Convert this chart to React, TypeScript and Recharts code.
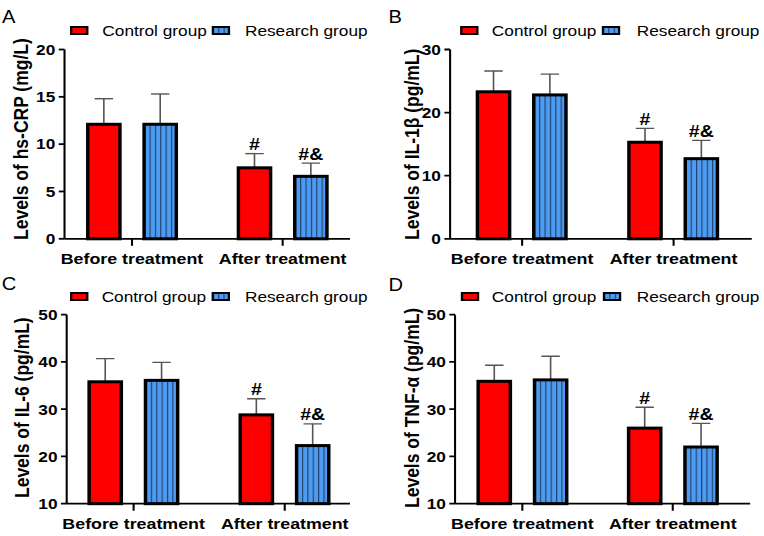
import React from 'react';
import { BarChart, Bar, XAxis, YAxis } from 'recharts';

const S = 1.15;
const PANEL_W = 382 / S;
const PANEL_H = 268;
const FONT = '"Liberation Sans", Arial, Helvetica, sans-serif';

const categories = ['Before treatment', 'After treatment'];
const sigControl = ['', '#'];
const sigResearch = ['', '#&'];

const crpControl = [12.1, 7.5];
const crpControlSd = [2.7, 1.5];
const crpResearch = [12.1, 6.6];
const crpResearchSd = [3.2, 1.4];

const il1bControl = [23.3, 15.3];
const il1bControlSd = [3.3, 2.2];
const il1bResearch = [22.8, 12.7];
const il1bResearchSd = [3.3, 2.9];

const il6Control = [35.8, 28.8];
const il6ControlSd = [4.9, 3.4];
const il6Research = [36.1, 22.3];
const il6ResearchSd = [3.8, 4.6];

const tnfControl = [35.9, 26.0];
const tnfControlSd = [3.4, 4.4];
const tnfResearch = [36.2, 22.0];
const tnfResearchSd = [5.0, 5.0];

const ticksA = [0, 5, 10, 15, 20];
const ticksB = [0, 10, 20, 30];
const ticksCD = [10, 20, 30, 40, 50];

const buildRows = (c: number[], cSd: number[], r: number[], rSd: number[]) =>
  categories.map((name, i) => ({
    name,
    control: c[i],
    controlSd: cSd[i],
    research: r[i],
    researchSd: rSd[i],
    sigC: sigControl[i],
    sigR: sigResearch[i],
  }));

const makeShape = (base: number, valueKey: string, sdKey: string, sigKey: string) => (props: any) => {
  const { x, y, width, height, payload, fill } = props;
  const v = payload[valueKey];
  const ppu = height / (v - base);
  const top = y - payload[sdKey] * ppu;
  const cx = x + width / 2;
  return (
    <g>
      <line x1={cx} x2={cx} y1={y} y2={top} stroke="#555" strokeWidth={1.4} />
      <line x1={cx - 8} x2={cx + 8} y1={top} y2={top} stroke="#555" strokeWidth={1.4} />
      <rect x={x} y={y} width={width} height={height} fill={fill} stroke="#000" strokeWidth={3} />
      {payload[sigKey] ? (
        <text x={cx} y={top - 3.5} textAnchor="middle" fontSize={17} fontWeight={700} fill="#000">
          {payload[sigKey]}
        </text>
      ) : null}
    </g>
  );
};

type Cfg = {
  letter: string;
  yLabel: string;
  data: any[];
  domain: [number, number];
  ticks: number[];
  plotLeft: number;
  plotRight: number;
  plotTop: number;
  plotBottom: number;
  padL: number;
  padR: number;
  letterX: number;
  letterY: number;
  labelX: number;
  labelY: number;
  redX: number;
  t1X: number;
  blueX: number;
  t2X: number;
  swY: number;
  legY: number;
};

const panels: Cfg[] = [
  {
    letter: 'A', yLabel: 'Levels of hs-CRP (mg/L)',
    data: buildRows(crpControl, crpControlSd, crpResearch, crpResearchSd),
    domain: [0, 20], ticks: ticksA,
    plotLeft: 56.1, plotRight: 304.3, plotTop: 49.5, plotBottom: 238.8, padL: -6.8, padR: -7,
    letterX: 1.7, letterY: 22.7, labelX: 18.3, labelY: 240,
    redX: 60.9, t1X: 89, blueX: 184.1, t2X: 213, swY: 26, legY: 35.6,
  },
  {
    letter: 'B', yLabel: 'Levels of IL-1\u03b2 (pg/mL)',
    data: buildRows(il1bControl, il1bControlSd, il1bResearch, il1bResearchSd),
    domain: [0, 30], ticks: ticksB,
    plotLeft: 59.4, plotRight: 321.7, plotTop: 49.5, plotBottom: 238.8, padL: -3.25, padR: 2.1,
    letterX: 5.8, letterY: 23.3, labelX: 26.1, labelY: 240,
    redX: 68.1, t1X: 95.7, blueX: 191.3, t2X: 221.7, swY: 26, legY: 35.6,
  },
  {
    letter: 'C', yLabel: 'Levels of IL-6 (pg/mL)',
    data: buildRows(il6Control, il6ControlSd, il6Research, il6ResearchSd),
    domain: [10, 50], ticks: ticksCD,
    plotLeft: 58, plotRight: 304.3, plotTop: 46.7, plotBottom: 235.7, padL: -7.5, padR: -9,
    letterX: 1.5, letterY: 21.7, labelX: 19.6, labelY: 230,
    redX: 60.9, t1X: 88.4, blueX: 184, t2X: 213, swY: 24, legY: 34,
  },
  {
    letter: 'D', yLabel: 'Levels of TNF-\u03b1 (pg/mL)',
    data: buildRows(tnfControl, tnfControlSd, tnfResearch, tnfResearchSd),
    domain: [10, 50], ticks: ticksCD,
    plotLeft: 63.7, plotRight: 320.3, plotTop: 46.7, plotBottom: 235.7, padL: -6.9, padR: 1.9,
    letterX: 5.8, letterY: 23.3, labelX: 26.1, labelY: 240,
    redX: 68.7, t1X: 95.7, blueX: 192.2, t2X: 221.7, swY: 24, legY: 34,
  },
];

const positions = [
  { left: 0, top: 0 },
  { left: 382 / S, top: 0 },
  { left: 0, top: 268 },
  { left: 382 / S, top: 268 },
];

function Panel({ cfg, left, top }: { cfg: Cfg; left: number; top: number }) {
  const base = cfg.domain[0];
  return (
    <div style={{ position: 'absolute', left, top, width: PANEL_W, height: PANEL_H }}>
      <BarChart
        width={PANEL_W}
        height={PANEL_H}
        data={cfg.data}
        barSize={28}
        barGap={21}
        margin={{ top: cfg.plotTop, right: PANEL_W - cfg.plotRight, bottom: 0, left: 0 }}
      >
        <XAxis
          dataKey="name"
          height={PANEL_H - cfg.plotBottom}
          padding={{ left: cfg.padL, right: cfg.padR }}
          axisLine={{ stroke: '#000', strokeWidth: 1.8 }}
          tickLine={{ stroke: '#000', strokeWidth: 1.8 }}
          tickSize={7}
          tickMargin={7}
          interval={0}
          tick={{ fill: '#000', fontSize: 15.5, fontWeight: 700 }}
        />
        <YAxis
          type="number"
          width={cfg.plotLeft}
          domain={cfg.domain}
          ticks={cfg.ticks}
          interval={0}
          axisLine={{ stroke: '#000', strokeWidth: 1.8 }}
          tickLine={{ stroke: '#000', strokeWidth: 1.8 }}
          tickSize={5}
          tickMargin={3}
          tick={{ fill: '#000', fontSize: 15, fontWeight: 700 }}
        />
        <Bar
          dataKey="control"
          fill="#ff0000"
          isAnimationActive={false}
          shape={makeShape(base, 'control', 'controlSd', 'sigC')}
        />
        <Bar
          dataKey="research"
          fill="url(#stripesBar)"
          isAnimationActive={false}
          shape={makeShape(base, 'research', 'researchSd', 'sigR')}
        />
      </BarChart>
      <svg
        width={PANEL_W}
        height={PANEL_H}
        style={{ position: 'absolute', left: 0, top: 0, pointerEvents: 'none' }}
      >
        <text x={cfg.letterX} y={cfg.letterY} fontSize={17.5} fill="#000">
          {cfg.letter}
        </text>
        <text
          x={cfg.labelX}
          y={cfg.labelY}
          transform={`rotate(-90 ${cfg.labelX} ${cfg.labelY})`}
          textAnchor="start"
          dominantBaseline="central"
          fontSize={17.5}
          fontWeight={700}
          fill="#000"
        >
          {cfg.yLabel}
        </text>
        <rect x={cfg.redX + 1} y={cfg.swY + 1} width={14} height={7} fill="#ff0000" stroke="#000" strokeWidth={2} />
        <text x={cfg.t1X} y={cfg.legY} fontSize={15} fill="#000">
          Control group
        </text>
        <rect x={cfg.blueX + 1} y={cfg.swY + 1} width={14} height={7} fill="url(#stripesLegend)" stroke="#000" strokeWidth={2} />
        <text x={cfg.t2X} y={cfg.legY} fontSize={15} fill="#000">
          Research group
        </text>
      </svg>
    </div>
  );
}

export default function App() {
  return (
    <div
      style={{
        position: 'absolute',
        left: 0,
        top: 0,
        width: 764 / S,
        height: 536,
        background: '#fff',
        fontFamily: FONT,
        transform: `scaleX(${S})`,
        transformOrigin: '0 0',
        overflow: 'hidden',
      }}
    >
      <svg width={0} height={0} style={{ position: 'absolute' }}>
        <defs>
          <pattern id="stripesBar" patternUnits="objectBoundingBox" width={1 / 6} height={1}>
            <rect x={0} y={0} width={200} height={2000} fill="#4d9cf2" />
            <rect x={0} y={0} width={1} height={2000} fill="#22406c" />
          </pattern>
          <pattern id="stripesLegend" patternUnits="objectBoundingBox" width={1 / 3} height={1}>
            <rect x={0} y={0} width={200} height={200} fill="#4d9cf2" />
            <rect x={0} y={0} width={1} height={200} fill="#22406c" />
          </pattern>
        </defs>
      </svg>
      {panels.map((cfg, i) => (
        <Panel key={cfg.letter} cfg={cfg} left={positions[i].left} top={positions[i].top} />
      ))}
    </div>
  );
}
